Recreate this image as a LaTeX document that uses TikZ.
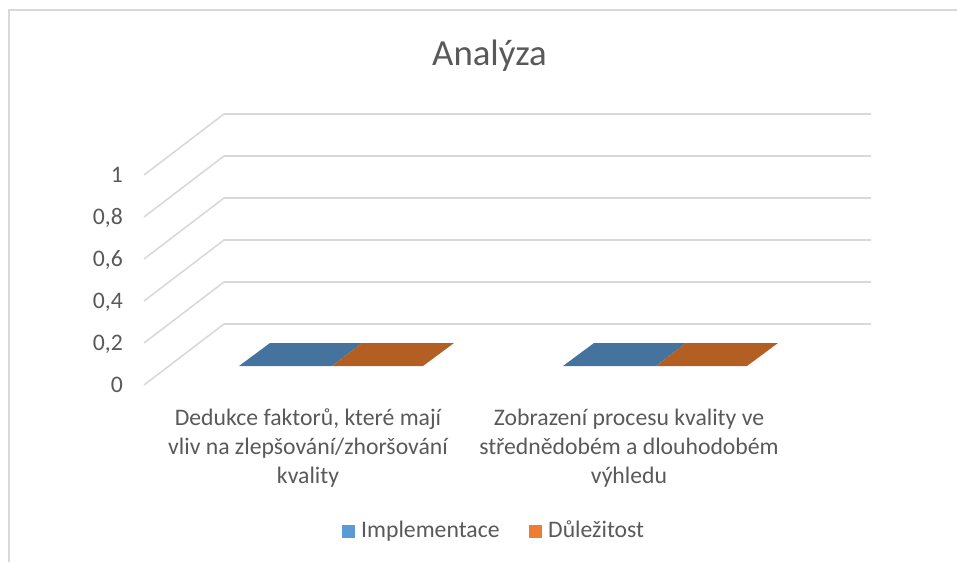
\documentclass[tikz,border=0pt]{standalone}
\usepackage{fontspec}
\setmainfont{Carlito}
\usepackage{tikz}
\definecolor{gridgray}{HTML}{D9D9D9}
\definecolor{txtgray}{HTML}{595959}
\definecolor{implblue}{HTML}{5B9BD5}
\definecolor{dulorange}{HTML}{ED7D31}
\definecolor{impltop}{HTML}{44749E}
\definecolor{dultop}{HTML}{B35E23}

\begin{document}
\begin{tikzpicture}[x=1pt,y=-1pt]
    \tikzstyle{gridline}=[draw=gridgray,line width=1.6pt]
    \tikzstyle{ylabel}=[anchor=base east,inner sep=0pt,text=txtgray,font=\fontsize{23.7}{29}\selectfont]
    \tikzstyle{catlabel}=[ylabel,anchor=base,align=center];
    \tikzstyle{legtext}=[ylabel,anchor=base west];
    \tikzstyle{legkey}=[inner sep=0pt,minimum size=13pt];

\useasboundingbox (0,0) rectangle (957,562);
\draw[gridline] (9,562) -- (9,10) -- (957,10);

\node[inner sep=0pt,anchor=base,text=txtgray,font=\fontsize{36.8}{44}\selectfont] (title) at (489.5,65) {Analýza};

% floor and walls
\foreach \v/\lab in {0/0,1/{0,2},2/{0,4},3/{0,6},4/{0,8},5/1}{
\coordinate (f\v) at (144,385-42*\v);
\coordinate (b\v) at (224,324-42*\v);
\draw[gridline] (f\v) -- (b\v) -- (871,324-42*\v);
\node[ylabel] (y\v) at (123,392.5-42*\v) {\lab};
};

% bars (all values 0)
\foreach \g in {0,324}{
\fill[impltop] (239+\g,366) -- (270+\g,343) -- (362+\g,343) -- (332+\g,366) -- cycle;
\fill[dultop] (332+\g,366) -- (362+\g,343) -- (454+\g,343) -- (423+\g,366) -- cycle;
};

% base anchor sits on the last line
\node[catlabel] (cat1) at (308,483) {Dedukce faktorů, které mají\\vliv na zlepšování/zhoršování\\kvality};
\node[catlabel] (cat2) at (629,483) {Zobrazení procesu kvality ve\\střednědobém a dlouhodobém\\výhledu};

\node[legkey,fill=implblue] (key1) at (348.5,531.5) {};
\node[legtext] (leg1) at (361,537) {Implementace};
\node[legkey,fill=dulorange] (key2) at (535.5,531.5) {};
\node[legtext] (leg2) at (548,537) {Důležitost};
\end{tikzpicture}
\end{document}
